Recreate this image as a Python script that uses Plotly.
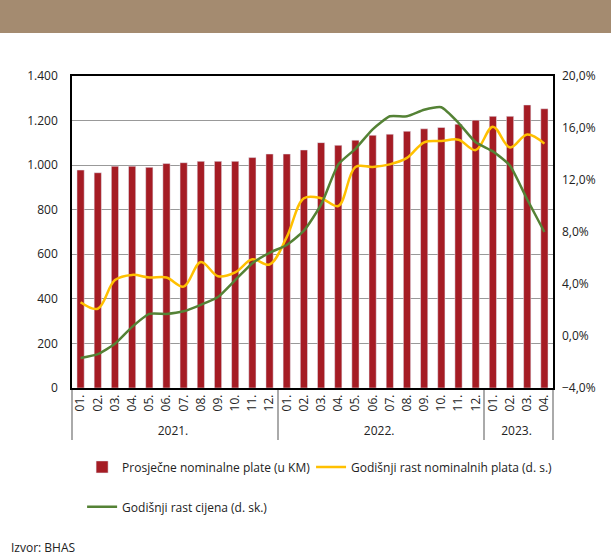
import plotly.graph_objects as go

godine = ["2021."] * 12 + ["2022."] * 12 + ["2023."] * 4
mjeseci = ["01.", "02.", "03.", "04.", "05.", "06.", "07.", "08.", "09.", "10.", "11.", "12."] * 2 + ["01.", "02.", "03.", "04."]

plate = [978, 966, 995, 995, 990, 1007, 1011, 1017, 1017, 1017, 1034, 1050,
         1050, 1068, 1101, 1089, 1112, 1134, 1139, 1152, 1163, 1169, 1184, 1202,
         1219, 1219, 1270, 1253]
rast_plata = [2.6, 2.1, 4.3, 4.7, 4.5, 4.5, 3.8, 5.7, 4.6, 4.9, 5.9, 5.5,
              7.6, 10.6, 10.6, 10.0, 13.0, 13.0, 13.2, 13.7, 14.9, 15.0, 15.1, 14.3,
              16.1, 14.5, 15.5, 14.8]
rast_cijena = [-1.7, -1.4, -0.6, 0.7, 1.7, 1.7, 1.9, 2.4, 3.0, 4.3, 5.6, 6.4,
               7.0, 8.1, 10.1, 13.2, 14.4, 15.9, 16.9, 16.9, 17.4, 17.6, 16.4, 14.9,
               14.2, 13.1, 10.5, 8.0]

x = [godine, mjeseci]
font = "Open Sans"

fig = go.Figure()
fig.add_trace(go.Bar(x=x, y=plate, name="Prosječne nominalne plate (u KM)",
                     marker_color="#A51C24", width=0.42, legend="legend"))
fig.add_trace(go.Scatter(x=x, y=rast_plata, yaxis="y2", mode="lines",
                         name="Godišnji rast nominalnih plata (d. s.)", legend="legend3",
                         line=dict(color="#FFC000", width=2.5, shape="spline", smoothing=1)))
fig.add_trace(go.Scatter(x=x, y=rast_cijena, yaxis="y2", mode="lines",
                         name="Godišnji rast cijena (d. sk.)", legend="legend2",
                         line=dict(color="#548235", width=2.5, shape="spline", smoothing=0.5)))

leg = dict(orientation="h", xanchor="left", yanchor="middle",
           font=dict(size=12), bgcolor="rgba(0,0,0,0)")

fig.update_layout(
    width=611, height=558,
    margin=dict(l=72, r=58, t=76, b=170),
    paper_bgcolor="white", plot_bgcolor="white",
    separators=",.",
    font=dict(family=font, size=12, color="#222222"),
    showlegend=True,
    legend=dict(leg, x=0.021, y=-0.253),
    legend3=dict(leg, x=0.497, y=-0.253),
    legend2=dict(leg, x=0.021, y=-0.381),
    xaxis=dict(type="multicategory", tickangle=-90, showgrid=False,
               showline=True, linecolor="black", linewidth=1.5, mirror=True,
               showdividers=True, dividercolor="#AAAAAA", dividerwidth=1.5,
               tickfont=dict(size=12)),
    yaxis=dict(range=[0, 1400], dtick=200, tickformat=",.0f",
               showgrid=True, gridcolor="#999999", gridwidth=1,
               showline=True, linecolor="black", linewidth=1.5, mirror=True,
               zeroline=False, ticks="", ticklabelstandoff=10),
    yaxis2=dict(range=[-4, 20], dtick=4, tickformat=".1f", ticksuffix="%",
                overlaying="y", side="right", showgrid=False, zeroline=False,
                ticks="", ticklabelstandoff=8),
    shapes=[dict(type="rect", xref="paper", yref="paper",
                 x0=-0.3, x1=1.3, y0=(388 - 33) / 312, y1=1.4,
                 fillcolor="#A48B70", line_width=0, layer="above")],
    annotations=[dict(text="Izvor: BHAS", xref="paper", yref="paper",
                      x=-0.131, y=-0.512, xanchor="left", yanchor="middle",
                      showarrow=False, font=dict(size=12))],
)

fig.write_html("out.html", config={"displayModeBar": False},
               post_script="document.body.style.margin='0px';")
